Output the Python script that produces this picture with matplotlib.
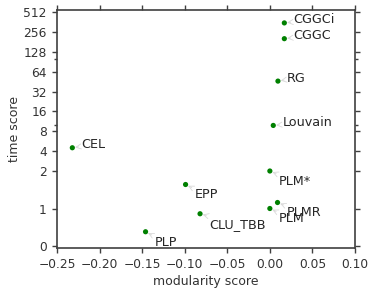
import matplotlib
matplotlib.use("Agg")
from matplotlib import pyplot as plt
from matplotlib.ticker import FixedLocator, FixedFormatter

# modularity score vs. time score per algorithm
names = ["CGGCi", "CGGC", "RG", "Louvain", "CEL", "PLM*", "EPP", "PLMR", "PLM", "CLU_TBB", "PLP"]
modularity = [0.017, 0.017, 0.0095, 0.004, -0.232, 0.0, -0.099, 0.009, 0.0, -0.082, -0.146]
time_score = [350, 202, 46, 9.8, 4.5, 2.0, 1.64, 1.16, 1.0, 0.86, 0.38]
below = [False, False, False, False, False, True, True, True, True, True, True]

yticks = [0, 1, 2, 4, 8, 16, 32, 64, 128, 256, 512]
xticks = [-0.25, -0.20, -0.15, -0.10, -0.05, 0.00, 0.05, 0.10]

plt.rcParams['font.family'] = 'DejaVu Sans'
plt.rcParams['font.size'] = 9
dark = '0.25'

fig = plt.figure(figsize=(3.74, 2.98), dpi=100)
ax = fig.add_axes([0.1524, 0.1678, 0.7968, 0.7986])

ax.scatter(modularity, time_score, s=14, c='green', edgecolors='none', zorder=3)

for name, x, y, b in zip(names, modularity, time_score, below):
    off = (6.5, -7.5) if b else (6.5, 2.2)
    ax.annotate(name, xy=(x, y), xytext=off, textcoords='offset points',
                ha='left', va='center', fontsize=9.2, color='0.15',
                arrowprops=dict(arrowstyle='->', color='0.85', lw=0.6,
                                shrinkA=0, shrinkB=2))

ax.set_yscale('symlog', base=2, linthresh=2, linscale=1.887)
ax.set_ylim(-0.053, 549)
ax.set_xlim(-0.25, 0.10)

ax.yaxis.set_major_locator(FixedLocator(yticks))
ax.yaxis.set_major_formatter(FixedFormatter([str(t) for t in yticks]))
ax.yaxis.set_minor_locator(FixedLocator([10, 100]))
ax.set_xticks(xticks)
ax.set_xticklabels(['\u22120.25', '\u22120.20', '\u22120.15', '\u22120.10',
                    '\u22120.05', '0.00', '0.05', '0.10'])

ax.tick_params(which='both', direction='out', top=True, right=True,
               colors=dark, labelcolor='0.2', labelsize=8.8, width=1, pad=3.5)
ax.tick_params(which='major', length=3.8)
ax.tick_params(which='minor', length=2)
for sp in ax.spines.values():
    sp.set_color(dark)
    sp.set_linewidth(1.2)

ax.set_xlabel('modularity score', color='0.2', fontsize=9, labelpad=3)
ax.set_ylabel('time score', color='0.2', fontsize=9, labelpad=2)

fig.savefig('out.png', dpi=100)
plt.close()
